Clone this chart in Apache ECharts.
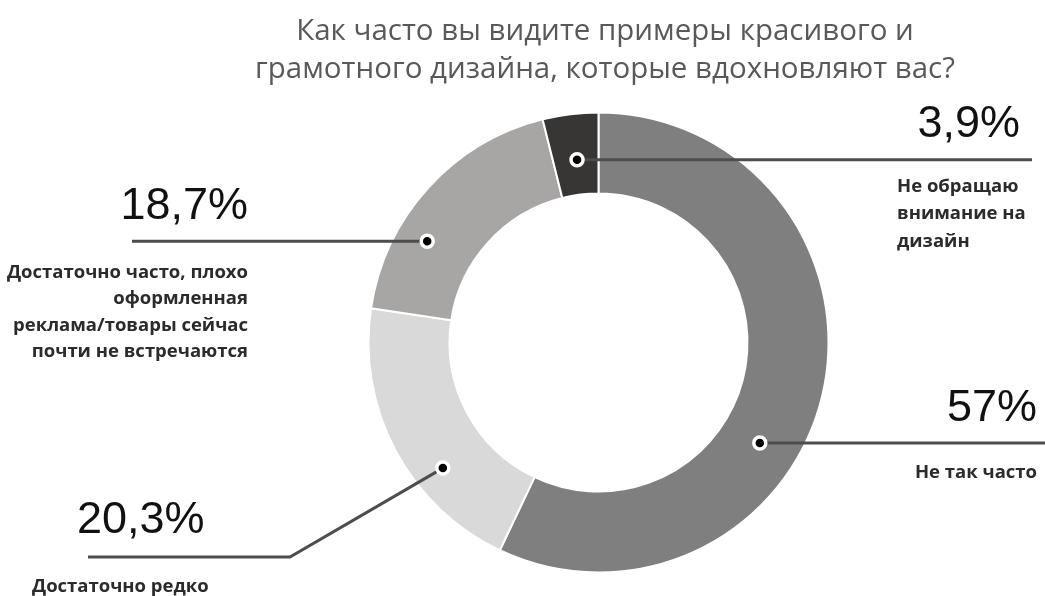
<!DOCTYPE html>
<html><head><meta charset="utf-8">
<script src="https://cdn.jsdelivr.net/npm/echarts@6/dist/echarts.min.js"></script>
<style>html,body{margin:0;padding:0;background:#fff}#c{width:1045px;height:596px}</style>
</head><body><div id="c"></div>
<script>
// ---- data ----
const titleLines = ['Как часто вы видите примеры красивого и', 'грамотного дизайна, которые вдохновляют вас?'];
const categories = [
  'Не так часто',
  'Достаточно редко',
  'Достаточно часто, плохо\nоформленная\nреклама/товары сейчас\nпочти не встречаются',
  'Не обращаю\nвнимание на\nдизайн'
];
const values = [57, 20.3, 18.7, 3.9];
const valueLabels = values.map(v => String(v).replace('.', ',') + '%');

// ---- style / layout ----
const sliceColors = ['#7f7f7f', '#d9d9d9', '#a8a6a5', '#383634'];
const center = [598.5, 342.5];
const radii = [149, 230];
// dot placed by angle (deg clockwise from 12 o'clock) and radius inside each slice
const annot = [
  {angle: 121.9, r: 190, path: [[1045, null]], num: {x: 1037, y: 409, align: 'right'}, name: {x: 1037, y: 473, align: 'right', lh: 27}},
  {angle: 231.1, r: 200, path: [[290, 557], [88, 557]], num: {x: 77, y: 521, align: 'left'}, name: {x: 32, y: 587, align: 'left', lh: 27}},
  {angle: 300.6, r: 199, path: [[132, null]], num: {x: 248, y: 207, align: 'right'}, name: {x: 248, y: 312, align: 'right', lh: 26.5}},
  {angle: 353.3, r: 184, path: [[1032, null]], num: {x: 1020, y: 125, align: 'right'}, name: {x: 897, y: 214, align: 'left', lh: 27.5}}
];

const graphics = [];
annot.forEach((a, i) => {
  const rad = a.angle * Math.PI / 180;
  const dx = center[0] + a.r * Math.sin(rad);
  const dy = center[1] - a.r * Math.cos(rad);
  const pts = [[dx, dy]].concat(a.path.map(p => [p[0], p[1] === null ? dy : p[1]]));
  graphics.push({type: 'polyline', z: 100, silent: true, shape: {points: pts},
    style: {stroke: '#4d4d4d', lineWidth: 3, fill: null}});
  graphics.push({type: 'circle', z: 101, silent: true, shape: {cx: dx, cy: dy, r: 6},
    style: {fill: '#000', stroke: '#fff', lineWidth: 3.5}});
  graphics.push({type: 'text', z: 101, silent: true, x: a.num.x, y: a.num.y,
    style: {text: valueLabels[i], font: 'normal 45px "Liberation Sans", Arial, sans-serif', fill: '#111',
      align: a.num.align, verticalAlign: 'middle'}});
  graphics.push({type: 'text', z: 101, silent: true, x: a.name.x, y: a.name.y,
    style: {text: categories[i], font: 'bold 18.5px "Open Sans", sans-serif', fill: '#2b2b2b',
      align: a.name.align, verticalAlign: 'middle', lineHeight: a.name.lh}});
});

const chart = echarts.init(document.getElementById('c'), null, {renderer: 'canvas'});
chart.setOption({
  animation: false,
  backgroundColor: '#fff',
  title: {
    text: titleLines.join('\n'),
    left: 600, top: 8, textAlign: 'center',
    textStyle: {fontFamily: 'Open Sans', fontSize: 29.5, fontWeight: 'normal', color: '#595959', lineHeight: 38}
  },
  series: [{
    type: 'pie',
    center: center,
    radius: radii,
    startAngle: 90,
    clockwise: true,
    silent: true,
    label: {show: false},
    labelLine: {show: false},
    itemStyle: {borderColor: '#fff', borderWidth: 2},
    data: values.map((v, i) => ({value: v, name: categories[i], itemStyle: {color: sliceColors[i]}}))
  }],
  graphic: graphics
});
</script>
</body></html>
